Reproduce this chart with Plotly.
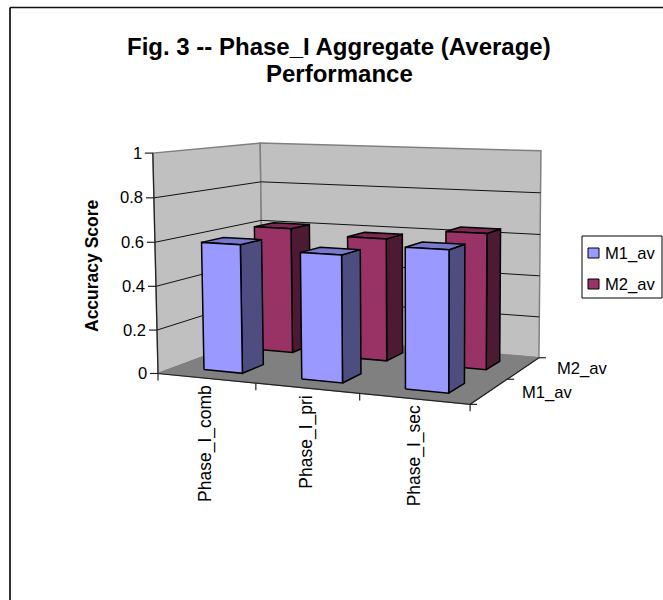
import numpy as np
import plotly.graph_objects as go

categories = ["Phase_I_comb", "Phase_I_pri", "Phase_I_sec"]
series_names = ["M1_av", "M2_av"]
m1_values = [0.59, 0.57, 0.62]
m2_values = [0.61, 0.585, 0.635]
z_ticks = [0, 0.2, 0.4, 0.6, 0.8, 1]
z_tick_labels = ["0", "0.2", "0.4", "0.6", "0.8", "1"]
title_lines = ["Fig. 3 -- Phase_I Aggregate (Average)", "Performance"]
z_title = "Accuracy Score"

BAR_SHARE = 0.4
FRONT = ["#9999FF", "#993366"]
SIDE = ["#4D4D80", "#4D1A33"]
TOP = ["#7878CC", "#7A2952"]
FONT = "Liberation Sans, Arial, sans-serif"
LABEL_SIZE = 16.6

# Perspective camera calibrated on the box corners: (u, v, w) -> screen
calib = [((0, 0, 0), (158, 373)), ((0, 0, 1), (153, 153)), ((1, 0, 0), (470, 405)),
         ((0, 1, 0), (263, 335)), ((0, 1, 1), (260, 143)), ((1, 1, 0), (539, 357)),
         ((1, 1, 1), (541, 151))]
rows = []
for (u, v, w), (sx, sy) in calib:
    rows.append([u, v, w, 1, 0, 0, 0, 0, -sx * u, -sx * v, -sx * w, -sx])
    rows.append([0, 0, 0, 0, u, v, w, 1, -sy * u, -sy * v, -sy * w, -sy])
P = np.linalg.svd(np.array(rows, float))[2][-1].reshape(3, 4)


def proj(u, v, w):
    h = P @ np.array([u, v, w, 1.0])
    return h[0] / h[2], h[1] / h[2]


fig = go.Figure()


def poly(pts, fill=None, line="black", width=1.5):
    xy = [proj(*p) for p in pts]
    xs = [a for a, _ in xy]
    ys = [b for _, b in xy]
    if fill:
        xs.append(xs[0])
        ys.append(ys[0])
    fig.add_trace(go.Scatter(x=xs, y=ys, mode="lines", fill="toself" if fill else None,
                             fillcolor=fill, line=dict(color=line, width=width),
                             hoverinfo="skip", showlegend=False))


# walls and floor
poly([(0, 0, 0), (0, 1, 0), (0, 1, 1), (0, 0, 1)], "#C0C0C0", "#808080", 1.5)
poly([(0, 1, 0), (1, 1, 0), (1, 1, 1), (0, 1, 1)], "#C0C0C0", "#808080", 1.5)
poly([(0, 0, 0), (1, 0, 0), (1, 1, 0), (0, 1, 0)], "#808080", "#808080", 1)

# grid lines on both walls
for t in z_ticks[1:-1]:
    poly([(0, 0, t), (0, 1, t), (1, 1, t)], None, "#111111", 1)

# bars, back series first
for s in [1, 0]:
    vals = [m1_values, m2_values][s]
    for c, val in enumerate(vals):
        du = (1 - BAR_SHARE) / 2 / len(categories)
        dv = (1 - BAR_SHARE) / 2 / len(series_names)
        u0, u1 = c / len(categories) + du, (c + 1) / len(categories) - du
        v0, v1 = s / len(series_names) + dv, (s + 1) / len(series_names) - dv
        poly([(u1, v0, 0), (u1, v1, 0), (u1, v1, val), (u1, v0, val)], SIDE[s])
        poly([(u0, v0, val), (u1, v0, val), (u1, v1, val), (u0, v1, val)], TOP[s])
        poly([(u0, v0, 0), (u1, v0, 0), (u1, v0, val), (u0, v0, val)], FRONT[s])

# axis edges
poly([(0, 0, 1), (0, 0, 0), (1, 0, 0), (1, 1, 0)], None, "#222222", 1.2)

shapes = []
ann = []


def tick(x0, y0, dx, dy):
    shapes.append(dict(type="line", xref="x", yref="y", x0=x0, y0=y0, x1=x0 + dx, y1=y0 + dy,
                       line=dict(color="#222222", width=1.2)))


for t, lab in zip(z_ticks, z_tick_labels):
    x, y = proj(0, 0, t)
    tick(x, y, -8, 0)
    ann.append(dict(x=x - 9, y=y, text=lab, xanchor="right", yanchor="middle", showarrow=False,
                    font=dict(size=LABEL_SIZE, color="black", family=FONT)))
for i in range(len(categories) + 1):
    x, y = proj(i / len(categories), 0, 0)
    tick(x, y, 0, 7)
for i, cat in enumerate(categories):
    x, y = proj((i + 0.5) / len(categories), 0, 0)
    ann.append(dict(x=x, y=y + 5, text=cat, textangle=-90, xanchor="center", yanchor="top",
                    showarrow=False, font=dict(size=17.5, color="black", family=FONT)))
for i in range(len(series_names) + 1):
    x, y = proj(1, i / len(series_names), 0)
    tick(x, y, 7, 0)
for i, name in enumerate(series_names):
    x, y = proj(1, (i + 0.5) / len(series_names), 0)
    ann.append(dict(x=x + 31, y=y + (1 - i), text=name, xanchor="left", yanchor="middle", showarrow=False,
                    font=dict(size=LABEL_SIZE, color="black", family=FONT)))

# titles
ann.append(dict(x=339, y=46, text=title_lines[0], showarrow=False, xanchor="center", yanchor="middle",
                font=dict(size=24, color="black", family=FONT, weight="bold")))
ann.append(dict(x=339, y=73, text=title_lines[1], showarrow=False, xanchor="center", yanchor="middle",
                font=dict(size=24, color="black", family=FONT, weight="bold")))
ann.append(dict(x=92, y=266, text=z_title, textangle=-90, showarrow=False, xanchor="center", yanchor="middle",
                font=dict(size=17.5, color="black", family=FONT, weight="bold")))

# legend box
shapes.append(dict(type="rect", x0=582, y0=236, x1=662, y1=298, line=dict(color="black", width=1),
                   fillcolor="white"))
for i, name in enumerate(series_names):
    ym = 253 + 31 * i
    shapes.append(dict(type="rect", x0=588, x1=599, y0=ym - 5, y1=ym + 5, fillcolor=FRONT[i],
                       line=dict(color="black", width=1)))
    ann.append(dict(x=603, y=ym, text=name, xanchor="left", yanchor="middle", showarrow=False,
                    font=dict(size=LABEL_SIZE, color="black", family=FONT)))

# page frame
shapes.append(dict(type="line", x0=10, y0=7.5, x1=10, y1=600, line=dict(color="#333333", width=2)))
shapes.append(dict(type="line", x0=10, y0=7.5, x1=663, y1=7.5, line=dict(color="#111111", width=1.5)))

fig.update_layout(width=663, height=600, margin=dict(l=0, r=0, t=0, b=0), showlegend=False,
                  paper_bgcolor="white", plot_bgcolor="white", shapes=shapes, annotations=ann,
                  xaxis=dict(range=[0, 663], visible=False, fixedrange=True),
                  yaxis=dict(range=[600, 0], visible=False, fixedrange=True))
fig.write_html("out.html", config={"displayModeBar": False},
               post_script="document.body.style.margin='0';document.body.style.overflow='hidden';")
